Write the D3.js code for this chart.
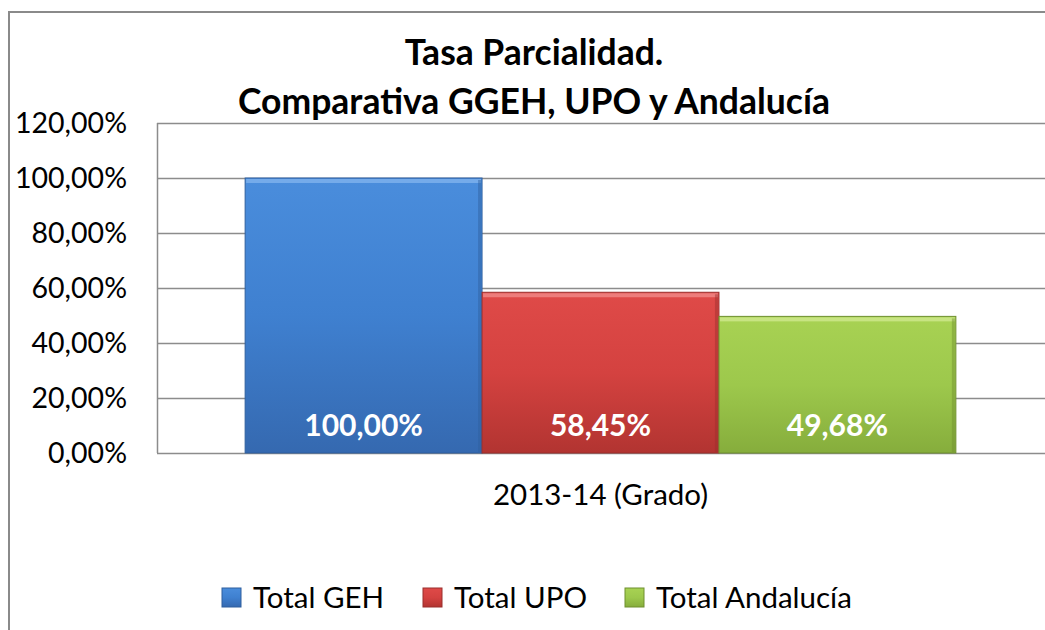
<!doctype html>
<html lang="es">
<head>
<meta charset="utf-8">
<script src="https://cdn.jsdelivr.net/npm/d3@7"></script>
<style>
  body { margin: 0; background: #fff; }
  svg text { font-family: Lato, "Open Sans", sans-serif; }
</style>
</head>
<body>
<div id="chart"></div>
<script>
  var titleLines = ["Tasa Parcialidad.", "Comparativa GGEH, UPO y Andalucía"];
  var category = "2013-14 (Grado)";
  var series = ["Total GEH", "Total UPO", "Total Andalucía"];
  var values = [1.0, 0.5845, 0.4968];
  var yTicks = [0, 0.2, 0.4, 0.6, 0.8, 1.0, 1.2];
  var colors = [
    {top: "#4a8ddc", mid: "#3f80d0", bottom: "#3569b0", edge: "#2f5f9e", light: "#7fb3ee"},
    {top: "#df4a48", mid: "#d44240", bottom: "#b23431", edge: "#9a2f2c", light: "#f08a88"},
    {top: "#a8d253", mid: "#9dc84c", bottom: "#86ad3c", edge: "#6f8f2f", light: "#cfe98e"}
  ];

  var W = 1045, H = 630;
  var margin = {top: 123, right: 1, bottom: 177, left: 157};
  var width = W - margin.left - margin.right,
      height = H - margin.top - margin.bottom;

  var fmt = function(v) {
    return d3.format(".2f")(v * 100).replace(".", ",") + "%";
  };

  var svg = d3.select("#chart").append("svg")
    .attr("width", W)
    .attr("height", H);

  var defs = svg.append("defs");
  colors.forEach(function(c, i) {
    var g = defs.append("linearGradient")
      .attr("id", "grad" + i)
      .attr("x1", 0).attr("y1", 0).attr("x2", 0).attr("y2", 1);
    g.append("stop").attr("offset", "0%").attr("stop-color", c.top);
    g.append("stop").attr("offset", "50%").attr("stop-color", c.mid);
    g.append("stop").attr("offset", "100%").attr("stop-color", c.bottom);
  });

  // outer chart border
  svg.append("rect")
    .attr("x", 9).attr("y", 12)
    .attr("width", W + 20).attr("height", H + 20)
    .attr("fill", "none")
    .attr("stroke", "#8a8a8a")
    .attr("stroke-width", 2);

  var g = svg.append("g")
    .attr("transform", "translate(" + margin.left + "," + margin.top + ")");

  var y = d3.scaleLinear().domain([0, 1.2]).range([height, 0]);
  var x0 = d3.scaleBand().domain([category]).range([0, width]).paddingInner(0).paddingOuter(0.124);
  var x1 = d3.scaleBand().domain(series).range([0, x0.bandwidth()]).padding(0);

  // gridlines
  g.append("g")
    .selectAll("line")
    .data(yTicks)
    .join("line")
    .attr("x1", 0).attr("x2", width + 10)
    .attr("y1", function(d) { return Math.round(y(d)) + 0.5; })
    .attr("y2", function(d) { return Math.round(y(d)) + 0.5; })
    .attr("stroke", "#8c8c8c")
    .attr("stroke-width", 1.5);

  // plot area left edge
  g.append("line")
    .attr("x1", 0.5).attr("x2", 0.5)
    .attr("y1", 0).attr("y2", height)
    .attr("stroke", "#8c8c8c")
    .attr("stroke-width", 1.5);

  // y axis labels
  g.append("g")
    .selectAll("text")
    .data(yTicks)
    .join("text")
    .attr("x", -30)
    .attr("y", function(d) { return y(d); })
    .attr("dy", "0.36em")
    .attr("text-anchor", "end")
    .attr("font-size", "28.5px")
    .attr("fill", "#000")
    .text(fmt);

  // bars
  var bars = g.append("g")
    .attr("transform", "translate(" + x0(category) + ",0)")
    .selectAll("g")
    .data(series)
    .join("g");

  bars.append("rect")
    .attr("x", function(d) { return x1(d); })
    .attr("y", function(d, i) { return y(values[i]); })
    .attr("width", x1.bandwidth())
    .attr("height", function(d, i) { return height - y(values[i]); })
    .attr("fill", function(d, i) { return "url(#grad" + i + ")"; })
    .attr("stroke", function(d, i) { return colors[i].edge; })
    .attr("stroke-width", 1);

  // bevel highlight on top edge
  bars.append("rect")
    .attr("x", function(d) { return x1(d) + 1; })
    .attr("y", function(d, i) { return y(values[i]) + 1; })
    .attr("width", x1.bandwidth() - 2)
    .attr("height", 4)
    .attr("fill", function(d, i) { return colors[i].light; })
    .attr("opacity", 0.8);

  // darker right edge
  bars.append("rect")
    .attr("x", function(d) { return x1(d) + x1.bandwidth() - 4; })
    .attr("y", function(d, i) { return y(values[i]) + 2; })
    .attr("width", 3)
    .attr("height", function(d, i) { return height - y(values[i]) - 3; })
    .attr("fill", function(d, i) { return colors[i].edge; })
    .attr("opacity", 0.45);

  // value labels
  bars.append("text")
    .attr("x", function(d) { return x1(d) + x1.bandwidth() / 2; })
    .attr("y", height - 17)
    .attr("text-anchor", "middle")
    .attr("font-size", "30px")
    .attr("font-weight", "bold")
    .attr("fill", "#fff")
    .text(function(d, i) { return fmt(values[i]); });

  // category label
  g.append("text")
    .attr("x", x0(category) + x0.bandwidth() / 2)
    .attr("y", height + 52)
    .attr("text-anchor", "middle")
    .attr("font-size", "29.5px")
    .attr("fill", "#000")
    .text(category);

  // title
  svg.append("g")
    .selectAll("text")
    .data(titleLines)
    .join("text")
    .attr("x", 534)
    .attr("y", function(d, i) { return 65 + i * 49; })
    .attr("text-anchor", "middle")
    .attr("font-size", "35.5px")
    .attr("font-weight", "bold")
    .attr("fill", "#000")
    .text(function(d) { return d; });

  // legend
  var legendX = [222, 423, 625];
  var legend = svg.append("g")
    .selectAll("g")
    .data(series)
    .join("g")
    .attr("transform", function(d, i) { return "translate(" + legendX[i] + ",588)"; });

  legend.append("rect")
    .attr("width", 19).attr("height", 19)
    .attr("fill", function(d, i) { return "url(#grad" + i + ")"; })
    .attr("stroke", function(d, i) { return colors[i].edge; });

  legend.append("text")
    .attr("x", 31)
    .attr("y", 20)
    .attr("font-size", "29.5px")
    .attr("fill", "#000")
    .text(function(d) { return d; });
</script>
</body>
</html>
